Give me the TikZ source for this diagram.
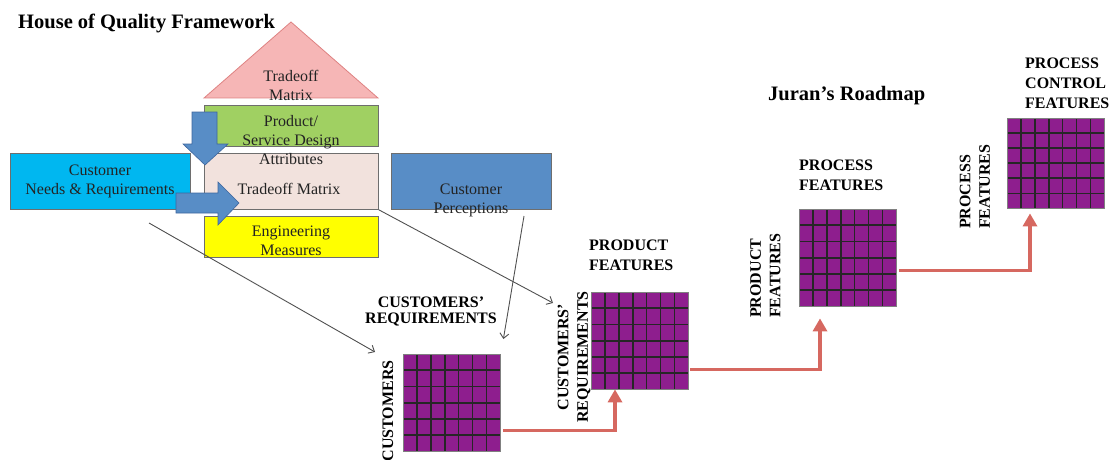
\documentclass[tikz,border=0pt]{standalone}
\usepackage{fontspec}
\setmainfont{Liberation Serif}
\usetikzlibrary{arrows.meta,calc}

\definecolor{roofpink}{RGB}{246,182,182}
\definecolor{roofedge}{RGB}{222,130,130}
\definecolor{designgreen}{RGB}{160,208,98}
\definecolor{tradepink}{RGB}{242,226,221}
\definecolor{engyellow}{RGB}{255,255,0}
\definecolor{needcyan}{RGB}{0,183,240}
\definecolor{percblue}{RGB}{88,141,198}
\definecolor{arrowedge}{RGB}{62,102,158}
\definecolor{boxgray}{RGB}{110,110,110}
\definecolor{matpurple}{RGB}{142,30,142}
\definecolor{roadred}{RGB}{214,104,96}
\definecolor{linegray}{RGB}{80,80,80}
\definecolor{txtgray}{RGB}{35,35,35}

\tikzset{
    box/.style={draw=boxgray, line width=0.8pt, inner sep=0pt, anchor=north west},
    txt/.style={inner sep=0pt, text=txtgray, align=center, font=\fontsize{16}{19}\selectfont},
    lbl/.style={inner sep=0pt, align=left, font=\bfseries\fontsize{16}{19.5}\selectfont},
    ttl/.style={inner sep=0pt, anchor=west, font=\bfseries\fontsize{20.5}{24}\selectfont},
    matx/.style={draw=gray, fill=matpurple, minimum width=97pt, minimum height=97pt, inner sep=0pt, anchor=north west},
    gridline/.style={black!85, line width=1.6pt},
    road/.style={draw=roadred, line width=3.5pt, -{Triangle[width=14pt,length=13pt]}},
    pointer/.style={draw=linegray, line width=0.9pt, -{Straight Barb[length=5pt,width=9pt]}},
    blockarrow/.style={fill=percblue, draw=arrowedge, line width=0.6pt}
}

\begin{document}
\begin{tikzpicture}[x=1pt, y=-1pt]
    \useasboundingbox (0,0) rectangle (1109,460);

    % 見出し
    \node[ttl] (hoq) at (18,23) {House of Quality Framework};
    \node[ttl] (juran) at (768,96) {Juran's Roadmap};

    % 家
    \filldraw[fill=roofpink, draw=roofedge, line width=0.8pt] (204,98)--(291,22)--(378,98)--cycle;
    \node[box, fill=designgreen, minimum width=174pt, minimum height=41pt] (design) at (204,105) {};
    \node[box, fill=tradepink, minimum width=174pt, minimum height=56pt] (trade) at (204,153) {};
    \node[box, fill=engyellow, minimum width=174pt, minimum height=41pt] (eng) at (204,216) {};
    \node[box, fill=needcyan, minimum width=180pt, minimum height=56pt] (needs) at (10,153) {};
    \node[box, fill=percblue, minimum width=160pt, minimum height=56pt] (perc) at (391,153) {};

    % 太い矢印
    \filldraw[blockarrow] (192,112)--(217,112)--(217,144)--(228,144)--(205,165)--(183,144)--(192,144)--cycle;
    \filldraw[blockarrow] (176,193)--(218,193)--(218,182)--(239,203)--(218,225)--(218,213)--(176,213)--cycle;

    % 文字
    \node[txt] (roofText) at (291,85) {Tradeoff\\Matrix};
    \node[txt] (designText) at (291,140) {Product/\\Service Design\\Attributes};
    \node[txt] (tradeText) at (289,189) {Tradeoff Matrix};
    \node[txt, font=\fontsize{16}{18.5}\selectfont] (engText) at (291,241) {Engineering\\Measures};
    \node[txt] (needsText) at (100,181) {Customer\\Needs \& Requirements};
    \node[txt] (percText) at (471,200) {Customer\\Perceptions};

    % 行列
    \node[matx] (m1) at (403,354) {};
    \node[matx] (m2) at (591,292) {};
    \node[matx] (m3) at (799,209) {};
    \node[matx, minimum height=90pt] (m4) at (1007,118) {};
    \foreach \m in {m1,m2,m3,m4} {
        \foreach \i in {1,...,6}
            \draw[gridline] ($(\m.north west)!\i/7!(\m.north east)$)--($(\m.south west)!\i/7!(\m.south east)$);
        \foreach \j in {1,...,5}
            \draw[gridline] ($(\m.north west)!\j/6!(\m.south west)$)--($(\m.north east)!\j/6!(\m.south east)$);
        \draw[gray, line width=0.8pt] (\m.north west) rectangle (\m.south east);
    }

    % ラベル
    \node[lbl, align=center, font=\bfseries\fontsize{16}{16}\selectfont] (custReq) at (431,311) {CUSTOMERS'\\REQUIREMENTS};
    \node[lbl, rotate=90] (cust) at (388,411) {CUSTOMERS};
    \node[lbl, align=center, rotate=90] (custReqSide) at (574,357) {CUSTOMERS'\\REQUIREMENTS};
    \node[lbl, anchor=west] (prodFeat) at (589,255.5) {PRODUCT\\FEATURES};
    \node[lbl, rotate=90, anchor=west] (prodFeatSide) at (765.5,318) {PRODUCT\\FEATURES};
    \node[lbl, anchor=west] (procFeat) at (799,175.5) {PROCESS\\FEATURES};
    \node[lbl, rotate=90, anchor=west] (procFeatSide) at (975,229) {PROCESS\\FEATURES};
    \node[lbl, anchor=west, font=\bfseries\fontsize{16}{20}\selectfont] (ctrlFeat) at (1025,83) {PROCESS\\CONTROL\\FEATURES};

    % 細い矢印
    \coordinate (a1s) at (149,223);
    \coordinate (a1e) at (375,352);
    \coordinate (a2e) at (553,303);
    \coordinate (a3s) at (524,216);
    \coordinate (a3e) at ([xshift=3pt,yshift=15pt]m1.north east);
    \draw[pointer] (a1s)--(a1e);
    \draw[pointer] (trade.south east)--(a2e);
    \draw[pointer] (a3s)--(a3e);

    % 赤い矢印
    \draw[road] ([xshift=3pt,yshift=21pt]m1.south east) -| ([xshift=24pt]m2.south west);
    \draw[road] ([xshift=2pt,yshift=20pt]m2.south east) -| ([xshift=21pt,yshift=-12pt]m3.south west);
    \draw[road] ([xshift=3pt,yshift=36pt]m3.south east) -| ([xshift=23pt,yshift=-5pt]m4.south west);

\end{tikzpicture}
\end{document}
